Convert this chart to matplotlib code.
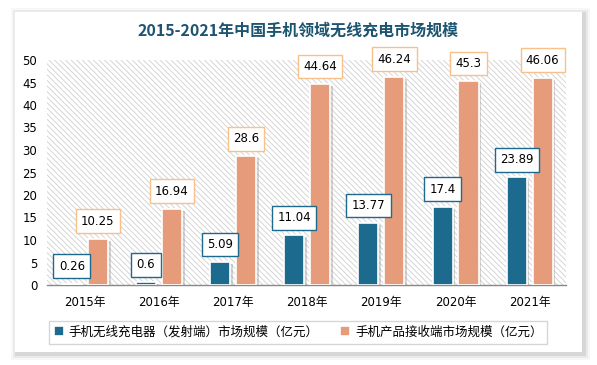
import numpy as np
import matplotlib
matplotlib.use('Agg')
import matplotlib.pyplot as plt
import matplotlib.patheffects as pe
from matplotlib.patches import Rectangle

plt.rcParams['font.family'] = ['DejaVu Sans', 'Noto Sans CJK SC']
plt.rcParams['hatch.linewidth'] = 0.6

years = ['2015年', '2016年', '2017年', '2018年', '2019年', '2020年', '2021年']
transmit = [0.26, 0.6, 5.09, 11.04, 13.77, 17.4, 23.89]
receive = [10.25, 16.94, 28.6, 44.64, 46.24, 45.3, 46.06]
name_transmit = '手机无线充电器（发射端）市场规模（亿元）'
name_receive = '手机产品接收端市场规模（亿元）'
title = '2015-2021年中国手机领域无线充电市场规模'

blue = '#1d6a8f'
orange = '#e69b7a'

W, H = 597, 365
fig = plt.figure(figsize=(W/100, H/100), dpi=100)

# card with soft shadow
for k, a in [(6, 0.03), (4, 0.05), (2, 0.08)]:
    fig.patches.append(Rectangle(((15-k+2)/W, (H-352-k-2)/H), (567+2*k)/W, (340+2*k)/H,
                                 transform=fig.transFigure, fc='black', ec='none', alpha=a,
                                 zorder=-5))
fig.patches.append(Rectangle((15/W, (H-352)/H), 567/W, 340/H,
                             transform=fig.transFigure, fc='white', ec='none', zorder=-4))

ax = fig.add_axes([47/W, 80/H, 519/W, 225/H])
ax.patch.set_alpha(0)
ax.add_patch(Rectangle((0, 0), 1, 1, transform=ax.transAxes, fc='white', ec='#cfcfcf', lw=0,
                       hatch='\\' * 6, zorder=0))

x = np.arange(len(years))
bw = 0.27
shadow = [pe.SimplePatchShadow(offset=(2, -1.5), shadow_rgbFace='#888888', alpha=0.35), pe.Normal()]
b1 = ax.bar(x - 0.175, transmit, bw, color=blue, edgecolor='white', linewidth=1.2,
            label=name_transmit, zorder=3)
b2 = ax.bar(x + 0.175, receive, bw, color=orange, edgecolor='white', linewidth=1.2,
            label=name_receive, zorder=3)
for b in list(b1) + list(b2):
    b.set_path_effects(shadow)

for xi, v in zip(x, transmit):
    ax.annotate(f'{v:g}', (xi - 0.175, v), xytext=(0, 8), textcoords='offset points',
                ha='center', va='bottom', fontsize=8.5, color='black', zorder=5,
                bbox=dict(boxstyle='square,pad=0.45', fc='white', ec=blue, lw=1))
for xi, v in zip(x, receive):
    ax.annotate(f'{v:g}', (xi + 0.175, v), xytext=(0, 8), textcoords='offset points',
                ha='center', va='bottom', fontsize=8.5, color='black', zorder=5,
                bbox=dict(boxstyle='square,pad=0.45', fc='white', ec='#f9c08a', lw=1))

ax.set_xlim(-0.51, 6.49)
ax.set_ylim(0, 50)
ax.set_yticks(np.arange(0, 51, 5))
ax.set_xticks(x)
ax.set_xticklabels(years, fontsize=8.5)
ax.tick_params(axis='y', labelsize=8.5, length=0, pad=7)
ax.tick_params(axis='x', length=0, pad=8)
for s in ['top', 'right', 'left']:
    ax.spines[s].set_visible(False)
ax.spines['bottom'].set_color('#888888')
ax.spines['bottom'].set_linewidth(1)

fig.text(298/W, 1 - 31/H, title, ha='center', va='center', fontsize=11.5,
         fontweight='bold', color='#1d5470', family='Noto Sans CJK SC')

leg = fig.legend(handles=[b1, b2], loc='center', bbox_to_anchor=(298/W, 1 - 332/H), ncol=2,
                 fontsize=9, frameon=True, fancybox=False, handlelength=0.8, handleheight=0.8,
                 handletextpad=0.4, columnspacing=1.7, borderpad=0.4)
leg.get_frame().set_edgecolor('#cccccc')
leg.get_frame().set_linewidth(1)
for h in leg.legend_handles:
    h.set_path_effects([])

fig.savefig('out.png', dpi=100)
